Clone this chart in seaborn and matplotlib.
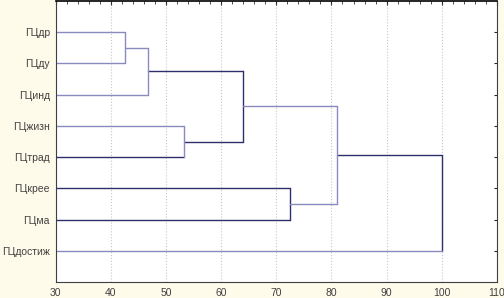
import seaborn as sns
import matplotlib.pyplot as plt
import pandas as pd
from matplotlib.ticker import MultipleLocator

# leaves in display order (top to bottom)
leaves = ['ГЦдр', 'ГЦду', 'ГЦинд', 'ГЦжизн', 'ГЦтрад', 'ГЦкрее', 'ГЦма', 'ГЦдостиж']
leaf_start = 30

# merges: (left cluster, right cluster, linkage distance)
merge_left = ['ГЦдр', 'c1', 'ГЦжизн', 'c2', 'ГЦкрее', 'c4', 'c6']
merge_right = ['ГЦду', 'ГЦинд', 'ГЦтрад', 'c3', 'ГЦма', 'c5', 'ГЦдостиж']
merge_height = [42.6, 46.8, 53.2, 63.9, 72.5, 81.0, 100.0]

# darker strokes as seen on the reference (per merge: left arm, right arm, vertical)
dark_left = [False, False, False, True, True, False, True]
dark_right = [False, False, True, True, True, False, False]
dark_vert = [False, False, False, True, True, False, True]

LIGHT = '#8a8ac0'
DARK = '#2e2e6e'

pos = {name: i + 1 for i, name in enumerate(leaves)}
hgt = {name: leaf_start for name in leaves}

segs = []
for k, (a, b, h) in enumerate(zip(merge_left, merge_right, merge_height)):
    ya, yb = pos[a], pos[b]
    segs.append((hgt[a], h, ya, ya, DARK if dark_left[k] else LIGHT))
    segs.append((hgt[b], h, yb, yb, DARK if dark_right[k] else LIGHT))
    segs.append((h, h, ya, yb, DARK if dark_vert[k] else LIGHT))
    name = f'c{k + 1}'
    pos[name] = (ya + yb) / 2
    hgt[name] = h

rows = []
for i, (x0, x1, y0, y1, c) in enumerate(segs):
    rows.append({'seg': i, 'x': x0, 'y': y0, 'c': c})
    rows.append({'seg': i, 'x': x1, 'y': y1, 'c': c})
df = pd.DataFrame(rows)

sns.set_style('white')
plt.rcParams['font.family'] = ['Liberation Sans', 'DejaVu Sans']

fig = plt.figure(figsize=(5.04, 2.98), dpi=100)
fig.patch.set_facecolor('#fffbea')
ax = fig.add_axes([55.5 / 504, 16 / 298, (497 - 55.5) / 504, (297 - 16) / 298])
ax.set_facecolor('white')

for color, sub in df.groupby('c'):
    sns.lineplot(data=sub, x='x', y='y', units='seg', estimator=None, sort=False,
                 color=color, linewidth=1.0, ax=ax)

ax.set_xlim(30, 110)
ax.set_ylim(9, 0)
ax.xaxis.set_major_locator(MultipleLocator(10))
ax.xaxis.set_minor_locator(MultipleLocator(2))
ax.set_yticks(range(1, len(leaves) + 1))
ax.set_yticklabels(leaves)
ax.set_xlabel('')
ax.set_ylabel('')
ax.grid(axis='x', which='major', color='#c8c8c8', linestyle=':', linewidth=0.8)
ax.tick_params(axis='x', which='major', direction='in', length=3, labelsize=7.5,
               colors='#303030', labelcolor='#404040', pad=4, top=True)
ax.tick_params(axis='x', which='minor', direction='in', length=2, colors='#303030', top=True)
ax.tick_params(axis='y', direction='in', length=2, labelsize=7.5, labelcolor='#404040',
               right=True, left=False, pad=4)
for side, sp in ax.spines.items():
    sp.set_visible(True)
    sp.set_color('#404040')
    sp.set_linewidth(0.8)
ax.spines['top'].set_color('black')
ax.spines['top'].set_linewidth(1.2)

fig.savefig('out.png', dpi=100, facecolor=fig.get_facecolor())
